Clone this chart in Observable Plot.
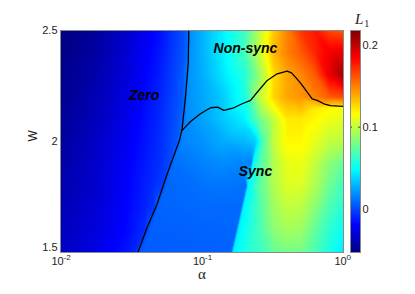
<!DOCTYPE html>
<html>
<head>
<meta charset="utf-8">
<script src="https://cdn.jsdelivr.net/npm/d3@7"></script>
<script src="https://cdn.jsdelivr.net/npm/@observablehq/plot@0.6"></script>
<style>
  html, body { margin: 0; padding: 0; background: #fff; }
  #wrap { position: relative; width: 415px; height: 294px; font-family: "Liberation Sans", Arial, sans-serif; }
  #wrap svg { position: absolute; top: 0; }
  #l1 { position: absolute; left: 355px; top: 12px; font: italic 15px "Liberation Serif", "Times New Roman", serif; line-height: 15px; color: #222; }
  #l1 span { font-style: normal; font-size: 10px; position: relative; top: 3px; margin-left: 1px; }
</style>
</head>
<body>
<div id="wrap"><div id="l1">L<span>1</span></div></div>
<script>
// ---- data ----
// W rows of the L1 map, each row: [alpha, L1]
const W_ROWS = [1.5, 1.6, 1.7, 1.8, 1.9, 2.0, 2.1, 2.15, 2.2, 2.3, 2.4, 2.5];
const row150 = [[0.01,-0.035],[0.018,-0.026],[0.028,-0.015],[0.033,-0.010],[0.037,0.005],[0.1,0.006],[0.161,0.007],[0.165,0.044],[0.2,0.055],[0.25,0.063],[0.32,0.075],[0.4,0.080],[0.5,0.080],[0.63,0.068],[0.8,0.055],[1,0.043]];
const row160 = [[0.01,-0.037],[0.018,-0.028],[0.03,-0.017],[0.039,-0.008],[0.043,0.006],[0.1,0.007],[0.175,0.008],[0.179,0.044],[0.25,0.066],[0.32,0.085],[0.4,0.092],[0.5,0.090],[0.63,0.075],[0.8,0.060],[1,0.050]];
const row170 = [[0.01,-0.039],[0.018,-0.030],[0.03,-0.018],[0.04,-0.010],[0.045,-0.005],[0.049,0.007],[0.1,0.009],[0.14,0.009],[0.19,0.009],[0.194,0.045],[0.25,0.067],[0.32,0.090],[0.4,0.100],[0.5,0.098],[0.63,0.085],[0.8,0.068],[1,0.058]];
const row180 = [[0.01,-0.041],[0.018,-0.032],[0.03,-0.019],[0.045,-0.008],[0.052,-0.003],[0.056,0.008],[0.1,0.011],[0.14,0.012],[0.206,0.011],[0.21,0.045],[0.25,0.070],[0.32,0.095],[0.4,0.107],[0.5,0.107],[0.63,0.095],[0.8,0.077],[1,0.065]];
const row190 = [[0.01,-0.043],[0.018,-0.033],[0.03,-0.020],[0.05,-0.007],[0.058,-0.001],[0.063,0.010],[0.1,0.015],[0.14,0.018],[0.2,0.016],[0.223,0.015],[0.228,0.048],[0.25,0.065],[0.32,0.095],[0.4,0.110],[0.5,0.112],[0.63,0.100],[0.8,0.085],[1,0.075]];
const row200 = [[0.01,-0.045],[0.018,-0.034],[0.03,-0.022],[0.05,-0.008],[0.067,0.005],[0.072,0.016],[0.1,0.020],[0.14,0.026],[0.2,0.030],[0.24,0.036],[0.27,0.070],[0.32,0.100],[0.4,0.118],[0.5,0.118],[0.63,0.110],[0.8,0.100],[1,0.098]];
const row210 = [[0.01,-0.047],[0.018,-0.037],[0.03,-0.024],[0.05,-0.009],[0.07,0.005],[0.078,0.018],[0.1,0.024],[0.14,0.034],[0.2,0.045],[0.25,0.075],[0.32,0.100],[0.4,0.122],[0.5,0.122],[0.63,0.118],[0.8,0.112],[1,0.108]];
const row215 = [[0.63,0.122],[0.8,0.118],[1,0.115]];
const row220 = [[0.01,-0.049],[0.018,-0.039],[0.03,-0.026],[0.05,-0.010],[0.073,0.005],[0.079,0.019],[0.1,0.025],[0.14,0.035],[0.2,0.055],[0.25,0.095],[0.32,0.127],[0.4,0.140],[0.5,0.145],[0.63,0.150],[0.8,0.160],[1,0.165]];
const row230 = [[0.01,-0.050],[0.018,-0.041],[0.03,-0.028],[0.05,-0.012],[0.074,0.005],[0.081,0.020],[0.1,0.027],[0.14,0.042],[0.2,0.058],[0.25,0.085],[0.32,0.125],[0.4,0.140],[0.5,0.148],[0.63,0.160],[0.8,0.190],[1,0.208]];
const row240 = [[0.01,-0.052],[0.018,-0.043],[0.03,-0.030],[0.05,-0.014],[0.076,0.005],[0.083,0.020],[0.1,0.028],[0.14,0.045],[0.2,0.066],[0.25,0.100],[0.32,0.135],[0.4,0.150],[0.5,0.160],[0.63,0.175],[0.8,0.188],[1,0.190]];
const row250 = [[0.01,-0.053],[0.018,-0.045],[0.03,-0.032],[0.05,-0.016],[0.077,0.004],[0.084,0.020],[0.1,0.028],[0.14,0.045],[0.2,0.065],[0.25,0.095],[0.32,0.130],[0.4,0.150],[0.5,0.170],[0.63,0.178],[0.8,0.165],[1,0.160]];
const ROWS = [row150, row160, row170, row180, row190, row200, row210, row215, row220, row230, row240, row250];

// boundary curves: [alpha, W]
const zeroBoundary = [[0.0806,2.5],[0.0799,2.351],[0.0764,2.2],[0.0724,2.059],[0.0693,2.005],[0.0568,1.855],[0.0482,1.719],[0.041,1.614],[0.0352,1.5]];
const syncBoundary = [[0.0724,2.05],[0.083,2.09],[0.0975,2.125],[0.1148,2.152],[0.1288,2.155],[0.1426,2.14],[0.1679,2.152],[0.1923,2.17],[0.2203,2.185],[0.2455,2.222],[0.2891,2.275],[0.3396,2.305],[0.3999,2.317],[0.4289,2.309],[0.4577,2.29],[0.5006,2.261],[0.5539,2.222],[0.6009,2.192],[0.652,2.185],[0.7262,2.17],[0.8096,2.162],[1.0,2.158]];

// region labels
const regionNames = ["Zero", "Non-sync", "Sync"];
const regionAlpha = [0.039, 0.2028, 0.2387];
const regionW = [2.207, 2.418, 1.866];

// ticks
const xTicks = [0.01, 0.1, 1];
const xTickExp = ["-2", "-1", "0"];
const yTicks = [1.5, 2, 2.5];
const cbTicks = [0, 0.1, 0.2];
const cbRange = [-0.053, 0.218];

// ---- build ----
const points = ROWS.flatMap((row, i) => row.map(([a, v]) => ({alpha: a, W: W_ROWS[i], L1: v})));
const [c0, c1] = cbRange;
const span = c1 - c0;
const colorScale = {
  type: "linear",
  domain: [c0, c0 + span / 8, c0 + 3 * span / 8, c0 + 5 * span / 8, c0 + 7 * span / 8, c1],
  range: ["#000080", "#0000ff", "#00ffff", "#ffff00", "#ff0000", "#800000"],
  interpolate: "rgb",
  clamp: true
};
const FONT = '"Liberation Sans", Arial, sans-serif';

const main = Plot.plot({
  width: 415, height: 294,
  marginLeft: 60, marginRight: 72, marginTop: 30, marginBottom: 42,
  style: {fontFamily: FONT, fontSize: "11px", color: "#222", background: "transparent"},
  x: {type: "log", domain: [0.01, 1], axis: null},
  y: {domain: [1.5, 2.5], axis: null},
  color: colorScale,
  marks: [
    Plot.raster(points, {x: "alpha", y: "W", fill: "L1", interpolate: "barycentric"}),
    Plot.line(zeroBoundary, {x: d => d[0], y: d => d[1], stroke: "#000", strokeWidth: 1.3}),
    Plot.line(syncBoundary, {x: d => d[0], y: d => d[1], stroke: "#000", strokeWidth: 1.3}),
    Plot.text(regionNames, {x: (d, i) => regionAlpha[i], y: (d, i) => regionW[i], text: d => d,
      fontSize: 14, fontWeight: "bold", fontStyle: "italic", fill: "#000"}),
    Plot.frame({stroke: "#8a8a8a"}),
    Plot.axisY({ticks: yTicks.slice(1), tickSize: 0, tickPadding: 3, label: null, tickFormat: d => String(d), fontSize: 11}),
    Plot.axisY({ticks: yTicks.slice(0, 1), tickSize: 0, tickPadding: 3, label: null, tickFormat: d => String(d), fontSize: 11, dy: -5}),
    Plot.text(xTicks, {x: d => d, text: () => "10", frameAnchor: "bottom", dy: 12, dx: -3, fontSize: 11}),
    Plot.text(xTicks, {x: d => d, text: (d, i) => xTickExp[i], frameAnchor: "bottom", dy: 7, dx: 3, textAnchor: "start", fontSize: 8}),
    Plot.text(["α"], {frameAnchor: "bottom", dy: 26, fontSize: 15, fontFamily: '"Liberation Serif", serif'}),
    Plot.text(["W"], {frameAnchor: "left", dx: -27, rotate: -90, fontSize: 12})
  ]
});

const bar = Plot.plot({
  width: 70, height: 294,
  marginLeft: 5, marginRight: 55, marginTop: 30, marginBottom: 42,
  style: {fontFamily: FONT, fontSize: "11px", color: "#222", background: "transparent"},
  x: {domain: [0, 1], axis: null},
  y: {domain: cbRange, axis: null},
  color: colorScale,
  marks: [
    Plot.raster({fill: (x, y) => y, x1: 0, x2: 1, y1: c0, y2: c1}),
    Plot.ruleY(cbTicks, {x1: 0, x2: 0.2, stroke: "#444"}),
    Plot.ruleY(cbTicks, {x1: 0.8, x2: 1, stroke: "#444"}),
    Plot.frame({stroke: "#8a8a8a"}),
    Plot.axisY({anchor: "right", ticks: cbTicks, tickSize: 0, tickPadding: 2, label: null, tickFormat: d => String(d), fontSize: 11})
  ]
});

const wrap = document.getElementById("wrap");
main.style.left = "0px";
bar.style.left = "345px";
wrap.appendChild(main);
wrap.appendChild(bar);
</script>
</body>
</html>
